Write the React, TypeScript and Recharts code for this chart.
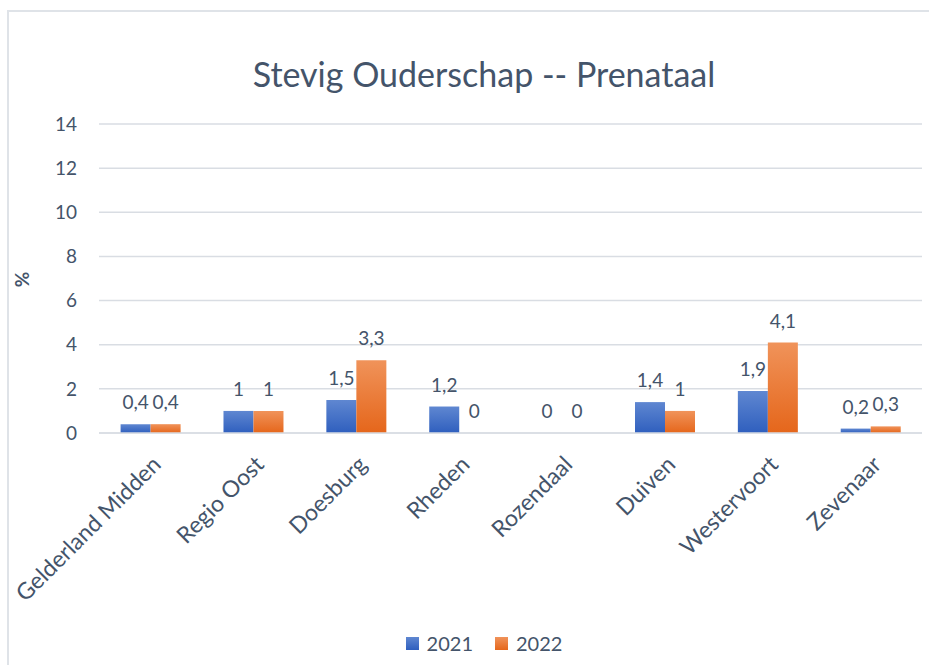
import { BarChart, Bar, XAxis, YAxis, CartesianGrid, LabelList } from "recharts"

const regions = ["Gelderland Midden", "Regio Oost", "Doesburg", "Rheden", "Rozendaal", "Duiven", "Westervoort", "Zevenaar"]
const values2021 = [0.4, 1, 1.5, 1.2, 0, 1.4, 1.9, 0.2]
const values2022 = [0.4, 1, 3.3, 0, 0, 1, 4.1, 0.3]
const yTicks = [0, 2, 4, 6, 8, 10, 12, 14]

const data = regions.map((name, i) => ({ name, y2021: values2021[i], y2022: values2022[i] }))

const textColor = "#44546a"
const font = "Lato, 'Open Sans', sans-serif"

const fmt = (v: any) => String(v).replace(".", ",")
// zero bars still need their "0" label, so give them an invisible sliver
const zeroSliver = (v: any) => (v === 0 ? 0.01 : 0)

function XTick(props: any) {
  const { x, y, payload } = props
  const tx = x + 12
  const ty = y + 25
  return (
    <text x={tx} y={ty} textAnchor="end" fill={textColor} fontSize={23} fontFamily={font} transform={`rotate(-45, ${tx}, ${ty})`}>
      {payload.value}
    </text>
  )
}

export default function App() {
  return (
    <div style={{ position: "absolute", left: 0, top: 0, width: 929, height: 665, overflow: "hidden", background: "#fff", fontFamily: font }}>
      <div style={{ position: "absolute", left: 7, top: 10, width: 960, height: 700, border: "2px solid #dfe3e8", boxSizing: "border-box" }} />
      <div style={{ position: "absolute", left: 0, width: 968, top: 53, textAlign: "center", fontSize: 34, color: textColor }}>
        Stevig Ouderschap -- Prenataal
      </div>
      <div style={{ position: "absolute", left: 14, top: 268, fontSize: 19, fontWeight: 700, color: textColor, transform: "rotate(-90deg)" }}>%</div>

      <div style={{ position: "absolute", left: 0, top: 0 }}>
        <BarChart width={929} height={665} data={data} margin={{ top: 124, right: 7, bottom: 0, left: 0 }} barCategoryGap="21%" barGap={0}>
          <defs>
            <linearGradient id="g2021" x1="0" y1="0" x2="0" y2="1">
              <stop offset="0%" stopColor="#5f87d1" />
              <stop offset="100%" stopColor="#2f5fbe" />
            </linearGradient>
            <linearGradient id="g2022" x1="0" y1="0" x2="0" y2="1">
              <stop offset="0%" stopColor="#f0935a" />
              <stop offset="100%" stopColor="#e5661b" />
            </linearGradient>
          </defs>
          <CartesianGrid vertical={false} stroke="#d9dde3" strokeWidth={1.5} />
          <XAxis dataKey="name" height={232} tickLine={false} axisLine={{ stroke: "#d9dde3", strokeWidth: 1.5 }} interval={0} tick={<XTick />} />
          <YAxis width={99} domain={[0, 14]} ticks={yTicks} tickLine={false} axisLine={false} tickSize={0} tickMargin={22} tick={{ fill: textColor, fontSize: 19, fontFamily: font }} />
          <Bar dataKey="y2021" name="2021" fill="url(#g2021)" minPointSize={zeroSliver} isAnimationActive={false}>
            <LabelList dataKey="y2021" position="top" offset={15} formatter={fmt} fill={textColor} fontSize={19} fontFamily={font} />
          </Bar>
          <Bar dataKey="y2022" name="2022" fill="url(#g2022)" minPointSize={zeroSliver} isAnimationActive={false}>
            <LabelList dataKey="y2022" position="top" offset={15} formatter={fmt} fill={textColor} fontSize={19} fontFamily={font} />
          </Bar>
        </BarChart>
      </div>

      <div style={{ position: "absolute", top: 631, left: 0, width: 968, display: "flex", justifyContent: "center", gap: 22, fontSize: 20, color: textColor }}>
        <div style={{ display: "flex", alignItems: "center", gap: 8 }}>
          <div style={{ width: 13, height: 13, background: "linear-gradient(#5f87d1, #2f5fbe)" }} />
          <span>2021</span>
        </div>
        <div style={{ display: "flex", alignItems: "center", gap: 8 }}>
          <div style={{ width: 13, height: 13, background: "linear-gradient(#f0935a, #e5661b)" }} />
          <span>2022</span>
        </div>
      </div>
    </div>
  )
}
